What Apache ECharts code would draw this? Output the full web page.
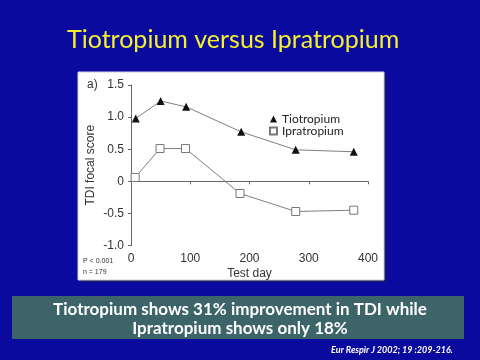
<!DOCTYPE html>
<html><head><meta charset="utf-8">
<script src="https://cdn.jsdelivr.net/npm/echarts@6/dist/echarts.min.js"></script>
<style>html,body{margin:0;padding:0;background:#0a0a9e;}#c{width:480px;height:360px;}</style>
</head><body><div id="c"></div>
<script>
var testDays = [8, 50, 93, 186, 278, 376];
var tiotropium = [0.98, 1.25, 1.16, 0.77, 0.49, 0.46];
var ipratropiumDays = [7, 49, 92, 184, 278, 376];
var ipratropium = [0.06, 0.51, 0.51, -0.19, -0.47, -0.45];
var xTicks = [0, 100, 200, 300, 400];
var yTicks = [-1.0, -0.5, 0, 0.5, 1.0, 1.5];

var chart = echarts.init(document.getElementById('c'));
function pairs(xs, ys){ return xs.map(function(x,i){return [x, ys[i]];}); }
chart.setOption({
  backgroundColor: '#0a0a9e',
  animation: false,
  title: {
    text: 'Tiotropium versus Ipratropium',
    left: 62, top: 22,
    textStyle: {color: '#f4f030', fontFamily: 'Lato', fontWeight: 'normal', fontSize: 25}
  },
  graphic: [
    {type: 'rect', z: -1, shape: {x: 80, y: 74, width: 306, height: 208}, style: {fill: '#1a1a60'}},
    {type: 'rect', z: -1, shape: {x: 78, y: 72, width: 306, height: 208}, style: {fill: '#ffffff', stroke: '#d0d0d8', lineWidth: 1}},
    {type: 'text', left: 87, top: 79, style: {text: 'a)', fill: '#333', font: '12px "Liberation Sans"'}},
    {type: 'text', left: 83, top: 258, style: {text: 'P < 0.001', fill: '#333', font: '7px "Liberation Sans"'}},
    {type: 'text', left: 83, top: 269, style: {text: 'n = 179', fill: '#333', font: '7px "Liberation Sans"'}},
    {type: 'rect', shape: {x: 12, y: 296, width: 452, height: 43}, style: {fill: '#3d6569'}},
    {type: 'text', x: 240, y: 300, style: {text: 'Tiotropium shows 31% improvement in TDI while\nIpratropium shows only 18%', fill: '#ffffff', font: 'bold 17px Lato', align: 'center', lineHeight: 19}},
    {type: 'text', x: 453, y: 346, style: {text: 'Eur Respir J 2002; 19 :209-216.', fill: '#ffffff', font: 'italic bold 9px Lato', align: 'right'}}
  ],
  grid: {left: 131, top: 85, right: 112, bottom: 114.5},
  legend: {
    orient: 'vertical', left: 264, top: 108, itemWidth: 7, itemHeight: 7, itemGap: 0,
    textStyle: {color: '#222', fontFamily: 'Lato', fontSize: 12},
    data: [{name: 'Tiotropium', icon: 'triangle'}, {name: 'Ipratropium', icon: 'rect'}]
  },
  xAxis: {
    type: 'value', min: 0, max: 400, interval: 100,
    name: 'Test day', nameLocation: 'middle', nameGap: 22,
    nameTextStyle: {color: '#333', fontFamily: 'Liberation Sans', fontSize: 12},
    axisLine: {lineStyle: {color: '#666'}},
    axisTick: {show: true, length: 3, lineStyle: {color: '#666'}},
    axisLabel: {color: '#333', fontFamily: 'Liberation Sans', fontSize: 12, margin: 7},
    splitLine: {show: false}
  },
  yAxis: {
    type: 'value', min: -1.0, max: 1.5, interval: 0.5,
    name: 'TDI focal score', nameLocation: 'middle', nameGap: 34, nameRotate: 90,
    nameTextStyle: {color: '#333', fontFamily: 'Liberation Sans', fontSize: 12},
    axisLine: {show: true, lineStyle: {color: '#666'}},
    axisTick: {show: true, length: 3, lineStyle: {color: '#666'}},
    axisLabel: {color: '#333', fontFamily: 'Liberation Sans', fontSize: 12, margin: 7,
      formatter: function(v){ return v === 0 ? '0' : v.toFixed(1); }},
    splitLine: {show: false}
  },
  series: [
    {name: 'Tiotropium', type: 'line', data: pairs(testDays, tiotropium),
     symbol: 'triangle', symbolSize: 8, showAllSymbol: true,
     lineStyle: {color: '#808080', width: 1},
     itemStyle: {color: '#111', borderWidth: 0}},
    {name: 'Ipratropium', type: 'line', data: pairs(ipratropiumDays, ipratropium),
     symbol: 'rect', symbolSize: 8, showAllSymbol: true,
     lineStyle: {color: '#808080', width: 1},
     itemStyle: {color: '#ffffff', borderColor: '#777', borderWidth: 1}}
  ]
});
</script></body></html>
